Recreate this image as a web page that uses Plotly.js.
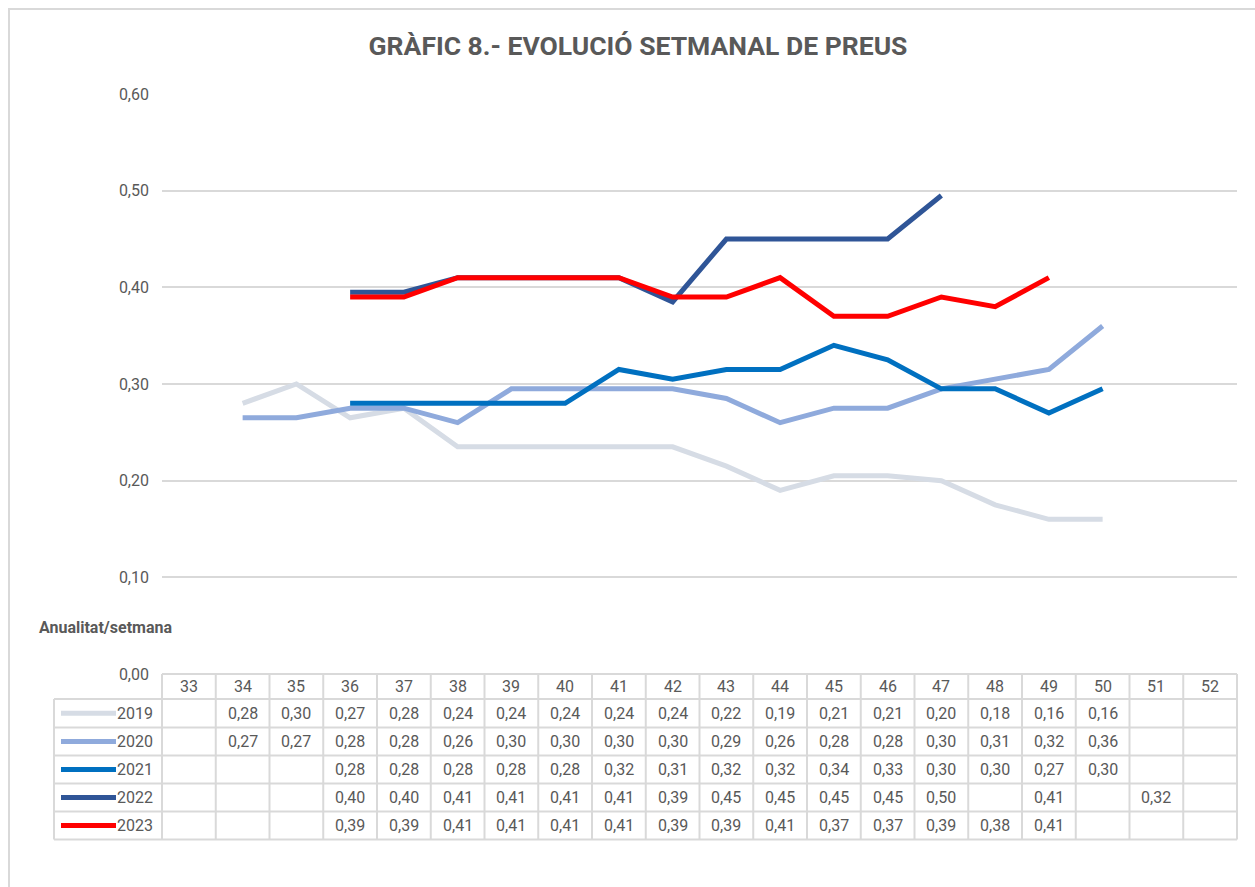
<!DOCTYPE html>
<html>
<head>
<meta charset="utf-8">
<script src="https://cdn.plot.ly/plotly-3.0.1.min.js"></script>
<style>
  html, body { margin: 0; padding: 0; background: #fff; }
  #chart { width: 1255px; height: 887px; }
</style>
</head>
<body>
<div id="chart"></div>
<script>
// Setmanes i preus per anualitat (null = sense dada)
const weeks = [33, 34, 35, 36, 37, 38, 39, 40, 41, 42, 43, 44, 45, 46, 47, 48, 49, 50, 51, 52];
const years = ['2019', '2020', '2021', '2022', '2023'];
const serie2019 = [null, 0.28, 0.30, 0.265, 0.275, 0.235, 0.235, 0.235, 0.235, 0.235, 0.215, 0.19, 0.205, 0.205, 0.20, 0.175, 0.16, 0.16, null, null];
const serie2020 = [null, 0.265, 0.265, 0.275, 0.275, 0.26, 0.295, 0.295, 0.295, 0.295, 0.285, 0.26, 0.275, 0.275, 0.295, 0.305, 0.315, 0.36, null, null];
const serie2021 = [null, null, null, 0.28, 0.28, 0.28, 0.28, 0.28, 0.315, 0.305, 0.315, 0.315, 0.34, 0.325, 0.295, 0.295, 0.27, 0.295, null, null];
const serie2022 = [null, null, null, 0.395, 0.395, 0.41, 0.41, 0.41, 0.41, 0.385, 0.45, 0.45, 0.45, 0.45, 0.495, null, 0.41, null, 0.32, null];
const serie2023 = [null, null, null, 0.39, 0.39, 0.41, 0.41, 0.41, 0.41, 0.39, 0.39, 0.41, 0.37, 0.37, 0.39, 0.38, 0.41, null, null, null];
const series = [serie2019, serie2020, serie2021, serie2022, serie2023];

const COLORS = ['#D6DCE5', '#8FAADC', '#0070C0', '#2F5597', '#FF0000'];
const TEXT = '#595959';
const BORDER = '#D9D9D9';
const FONT = 'Roboto, "Liberation Sans", Arial, sans-serif';

// page geometry (pixels)
const W = 1255, H = 887;
const M = { l: 162, r: 18, t: 94, b: 213 };
const px = x => (x - M.l) / (W - M.l - M.r);
const py = y => (H - M.b - y) / (H - M.t - M.b);

// table rows: header + one per year
const rowEdges = [674, 699, 727.5, 755.5, 783.5, 811.5, 839.5];
const tableLeft = 54;

const fmt = v => (Math.round(v * 100 + 1e-6) / 100).toFixed(2).replace('.', ',');

const traces = series.map((s, i) => ({
    x: weeks,
    y: s,
    type: 'scatter',
    mode: 'lines',
    name: years[i],
    connectgaps: false,
    line: { color: COLORS[i], width: 5 },
    hoverinfo: 'skip'
}));

const shapes = [];
const annotations = [];
const hline = (x0, x1, y) => shapes.push({
    type: 'line', xref: 'paper', yref: 'paper', x0: x0, x1: x1, y0: y, y1: y,
    line: { color: BORDER, width: 2 }
});
const label = (x, xref, y, text, opts) => annotations.push(Object.assign({
    x: x, xref: xref, y: y, yref: 'paper', text: text, showarrow: false,
    xanchor: 'center', yanchor: 'middle',
    font: { family: FONT, size: 16, color: TEXT }
}, opts || {}));

// outer chart frame
shapes.push({
    type: 'rect', xref: 'paper', yref: 'paper',
    x0: px(9), x1: px(1300), y0: py(9), y1: py(950),
    line: { color: BORDER, width: 2 }
});

// table grid
hline(0, 1, py(rowEdges[0]));
for (let r = 1; r < rowEdges.length; r++) hline(px(tableLeft), 1, py(rowEdges[r]));
shapes.push({
    type: 'line', xref: 'paper', yref: 'paper', x0: px(tableLeft), x1: px(tableLeft),
    y0: py(rowEdges[1]), y1: py(rowEdges[6]), line: { color: BORDER, width: 2 }
});
[0, 1].forEach(x => shapes.push({
    type: 'line', xref: 'paper', yref: 'paper', x0: x, x1: x,
    y0: py(rowEdges[0]), y1: py(rowEdges[6]), line: { color: BORDER, width: 2 }
}));
weeks.slice(0, -1).forEach(w => shapes.push({
    type: 'line', xref: 'x', yref: 'paper', x0: w + 0.5, x1: w + 0.5,
    y0: py(rowEdges[0]), y1: py(rowEdges[6]), line: { color: BORDER, width: 2 }
}));

// header: week numbers
weeks.forEach(w => label(w, 'x', py((rowEdges[0] + rowEdges[1]) / 2), String(w)));

// rows: legend swatch, year, values
series.forEach((s, i) => {
    const yc = py((rowEdges[i + 1] + rowEdges[i + 2]) / 2);
    shapes.push({
        type: 'line', xref: 'paper', yref: 'paper', x0: px(61), x1: px(116), y0: yc, y1: yc,
        line: { color: COLORS[i], width: 5 }
    });
    label(px(155), 'paper', yc, years[i], { xanchor: 'right' });
    s.forEach((v, j) => {
        if (v !== null) label(weeks[j], 'x', yc, fmt(v));
    });
});

label(px(37), 'paper', py(627), '<b>Anualitat/setmana</b>', { xanchor: 'left' });

const layout = {
    width: W,
    height: H,
    margin: M,
    paper_bgcolor: '#FFFFFF',
    plot_bgcolor: '#FFFFFF',
    separators: ', ',
    showlegend: false,
    font: { family: FONT, size: 16, color: TEXT },
    title: {
        text: '<b>GRÀFIC 8.- EVOLUCIÓ SETMANAL DE PREUS</b>',
        font: { family: FONT, size: 26.5, color: TEXT },
        x: 638 / W, xanchor: 'center',
        y: 1 - 46 / H, yanchor: 'middle'
    },
    xaxis: {
        range: [32.5, 52.5],
        showticklabels: false,
        showgrid: false,
        zeroline: false,
        showline: false,
        fixedrange: true
    },
    yaxis: {
        range: [0, 0.6],
        dtick: 0.1,
        tick0: 0,
        tickformat: '.2f',
        showgrid: true,
        gridcolor: BORDER,
        gridwidth: 2,
        zeroline: false,
        showline: false,
        ticklabelstandoff: 12,
        tickfont: { family: FONT, size: 16, color: TEXT },
        fixedrange: true
    },
    shapes: shapes,
    annotations: annotations
};

Plotly.newPlot('chart', traces, layout, { displayModeBar: false, staticPlot: true });
</script>
</body>
</html>
